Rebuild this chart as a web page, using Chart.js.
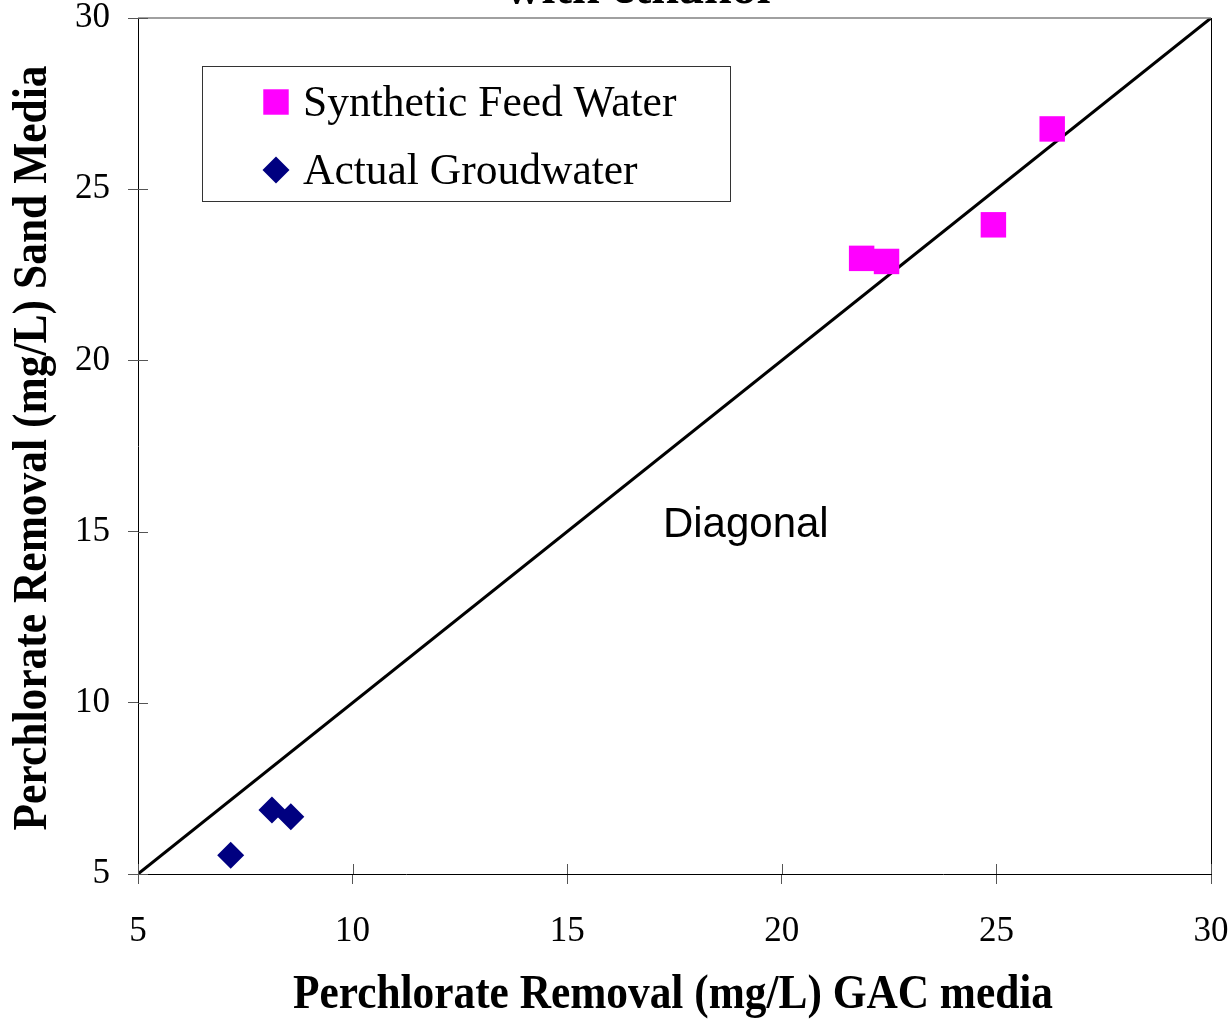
<!DOCTYPE html>
<html>
<head>
<meta charset="utf-8">
<script src="https://cdn.jsdelivr.net/npm/chart.js@4.4.1/dist/chart.umd.min.js"></script>
<style>
  html, body { margin: 0; padding: 0; background: #fff; }
  #wrap { width: 1232px; height: 1024px; position: relative; }
</style>
</head>
<body>
<div id="wrap"><canvas id="chart"></canvas></div>
<script>
// values
const syntheticX = [21.86, 22.44, 24.93, 26.30];
const syntheticY = [22.98, 22.89, 23.96, 26.76];
const groundX = [7.16, 8.12, 8.56];
const groundY = [5.55, 6.87, 6.67];
const diagonalEnds = [5, 30];
const axisMin = 5, axisMax = 30, axisStep = 5;

const labels = {
  synthetic: "Synthetic Feed Water",
  ground: "Actual Groudwater",
  diagonal: "Diagonal",
  xTitle: "Perchlorate Removal (mg/L) GAC media",
  yTitle: "Perchlorate Removal (mg/L) Sand Media",
  topTitle: "with ethanol",
};

const PINK = "#ff00ff";
const NAVY = "#000080";
const SERIF = "'Liberation Serif', 'Times New Roman', serif";
const SANS = "'Liberation Sans', Arial, sans-serif";

const toPoints = (xs, ys) => xs.map((x, i) => ({ x, y: ys[i] }));

function condensedText(ctx, text, font, width, x, y, rotation) {
  ctx.save();
  ctx.font = font;
  const w = ctx.measureText(text).width;
  ctx.translate(x, y);
  if (rotation) ctx.rotate(rotation);
  ctx.scale(width / w, 1);
  ctx.textAlign = "center";
  ctx.textBaseline = "alphabetic";
  ctx.fillStyle = "#000";
  ctx.fillText(text, 0, 0);
  ctx.restore();
}

const decorations = {
  id: "decorations",
  afterDatasetsDraw(chart) {
    const { ctx, chartArea: a, scales } = chart;
    ctx.save();

    // frame: gray top, black right
    ctx.strokeStyle = "#808080";
    ctx.lineWidth = 1.5;
    ctx.beginPath();
    ctx.moveTo(a.left, a.top);
    ctx.lineTo(a.right, a.top);
    ctx.stroke();
    ctx.strokeStyle = "#000";
    ctx.lineWidth = 1;
    ctx.beginPath();
    ctx.moveTo(a.right + 0.5, a.top);
    ctx.lineTo(a.right + 0.5, a.bottom);
    ctx.stroke();

    // inner half of the crossing tick marks
    ctx.strokeStyle = "#555";
    ctx.lineWidth = 1;
    scales.x.ticks.forEach((t) => {
      const px = Math.round(scales.x.getPixelForValue(t.value)) + 0.5;
      ctx.beginPath();
      ctx.moveTo(px, a.bottom);
      ctx.lineTo(px, a.bottom - 10);
      ctx.stroke();
    });
    scales.y.ticks.forEach((t) => {
      const py = Math.round(scales.y.getPixelForValue(t.value)) + 0.5;
      ctx.beginPath();
      ctx.moveTo(a.left, py);
      ctx.lineTo(a.left + 10, py);
      ctx.stroke();
    });

    // "Diagonal" label
    ctx.fillStyle = "#000";
    ctx.font = `42px ${SANS}`;
    ctx.textAlign = "left";
    ctx.textBaseline = "alphabetic";
    ctx.fillText(labels.diagonal, scales.x.getPixelForValue(17.23), scales.y.getPixelForValue(14.84));

    // legend box
    ctx.strokeStyle = "#333";
    ctx.lineWidth = 1;
    ctx.strokeRect(202.5, 66.5, 528, 135);
    ctx.fillStyle = PINK;
    ctx.strokeStyle = PINK;
    Chart.helpers.drawPoint(ctx, { pointStyle: "rect", radius: 18, borderWidth: 0 }, 276, 102);
    ctx.fillStyle = NAVY;
    ctx.strokeStyle = NAVY;
    Chart.helpers.drawPoint(ctx, { pointStyle: "rectRot", radius: 13.5, borderWidth: 0 }, 276, 170);
    ctx.fillStyle = "#000";
    ctx.font = `43.5px ${SERIF}`;
    ctx.fillText(labels.synthetic, 303, 116);
    ctx.fillText(labels.ground, 303, 184);

    // axis titles (condensed bold serif)
    condensedText(ctx, labels.xTitle, `bold 48px ${SERIF}`, 760, 673, 1008, 0);
    condensedText(ctx, labels.yTitle, `bold 48px ${SERIF}`, 765, 46, 448, -Math.PI / 2);

    // chart title, cut off by the top edge
    ctx.font = `bold 50px ${SERIF}`;
    ctx.textAlign = "center";
    ctx.fillText(labels.topTitle, 638, 2.5);

    ctx.restore();
  },
};

const tickFont = { family: SERIF, size: 35, lineHeight: 1 };

function axis(fit, padding) {
  return {
    type: "linear",
    min: axisMin,
    max: axisMax,
    ticks: { stepSize: axisStep, color: "#000", font: tickFont, padding },
    grid: { drawOnChartArea: false, drawTicks: true, tickLength: 10, color: "#555" },
    border: { display: true, color: "#000", width: 1 },
    afterFit: fit,
  };
}

new Chart(document.getElementById("chart"), {
  type: "scatter",
  data: {
    datasets: [
      {
        label: labels.synthetic,
        data: toPoints(syntheticX, syntheticY),
        pointStyle: "rect",
        pointRadius: 18,
        pointHoverRadius: 18,
        backgroundColor: PINK,
        borderColor: PINK,
        borderWidth: 0,
      },
      {
        label: labels.ground,
        data: toPoints(groundX, groundY),
        pointStyle: "rectRot",
        pointRadius: 13.5,
        pointHoverRadius: 13.5,
        backgroundColor: NAVY,
        borderColor: NAVY,
        borderWidth: 0,
      },
      {
        type: "line",
        label: labels.diagonal,
        data: toPoints(diagonalEnds, diagonalEnds),
        borderColor: "#000",
        borderWidth: 3,
        pointRadius: 0,
        fill: false,
      },
    ],
  },
  options: {
    responsive: true,
    maintainAspectRatio: false,
    animation: false,
    layout: { padding: { top: 18, right: 21, left: 0, bottom: 0 } },
    plugins: { legend: { display: false }, tooltip: { enabled: false } },
    scales: {
      x: axis((s) => { s.height = 150; s.paddingLeft = 0; s.paddingRight = 0; }, 30),
      y: axis((s) => { s.width = 138; s.paddingTop = 0; s.paddingBottom = 0; }, 18),
    },
  },
  plugins: [decorations],
});
</script>
</body>
</html>
